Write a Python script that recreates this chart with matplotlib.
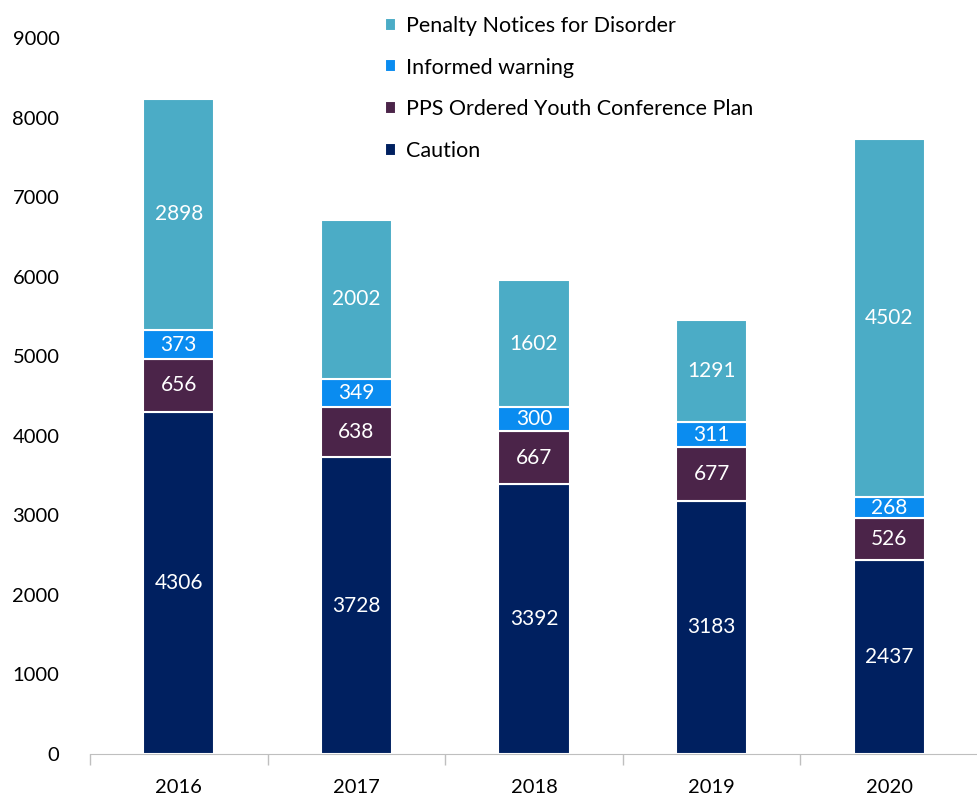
import numpy as np
import matplotlib
matplotlib.use("Agg")
import matplotlib.pyplot as plt

plt.rcParams['font.family'] = ['Lato', 'DejaVu Sans']

years = ['2016', '2017', '2018', '2019', '2020']
caution = [4306, 3728, 3392, 3183, 2437]
pps_youth = [656, 638, 667, 677, 526]
informed = [373, 349, 300, 311, 268]
penalty = [2898, 2002, 1602, 1291, 4502]

series = [
    ('Caution', caution, '#002060'),
    ('PPS Ordered Youth Conference Plan', pps_youth, '#4B2449'),
    ('Informed warning', informed, '#0A8CF0'),
    ('Penalty Notices for Disorder', penalty, '#4BACC6'),
]

fig = plt.figure(figsize=(9.78, 7.96), dpi=100)
ax = fig.add_axes([0.092, 0.0528, 0.908, 0.8992])

x = np.arange(len(years))
bottom = np.zeros(len(years))
handles = []
for name, vals, col in series:
    vals = np.array(vals, dtype=float)
    bars = ax.bar(x, vals, width=0.40, bottom=bottom, color=col,
                  edgecolor='white', linewidth=1.5, label=name)
    handles.append(bars)
    for xi, b, v in zip(x, bottom, vals):
        ax.text(xi, b + v / 2, f'{int(v)}', ha='center', va='center',
                color='white', fontsize=15)
    bottom += vals

ax.set_xlim(-0.5, 4.433)
ax.set_ylim(0, 9000)
ax.set_yticks(np.arange(0, 9001, 1000))
ax.tick_params(axis='y', length=0, labelsize=14.5, pad=22)
ax.set_xticks(x)
ax.set_xticklabels(years, fontsize=14.5)
ax.tick_params(axis='x', length=0, pad=18)
ax.set_xticks(np.arange(-0.5, 4.6, 1), minor=True)
ax.tick_params(axis='x', which='minor', length=8, color='#BFBFBF', width=1)

for s in ['top', 'right', 'left']:
    ax.spines[s].set_visible(False)
ax.spines['bottom'].set_color('#BFBFBF')

leg = ax.legend(handles[::-1], [s[0] for s in series][::-1],
                loc='upper left', bbox_to_anchor=(0.31, 1.058), frameon=False,
                fontsize=15.5, handlelength=0.55, handleheight=0.55,
                handletextpad=0.45, labelspacing=1.0)

fig.savefig('out.png', dpi=100)
